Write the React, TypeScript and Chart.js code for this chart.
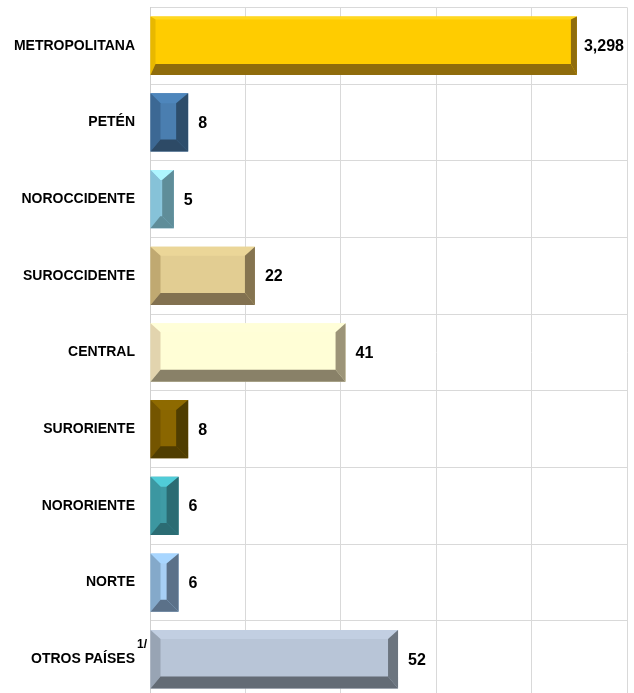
import React, { useEffect, useRef } from 'react';
import { Chart, registerables } from 'chart.js';

Chart.register(...registerables);

// ---- data ----
const categories = [
  'METROPOLITANA',
  'PETÉN',
  'NOROCCIDENTE',
  'SUROCCIDENTE',
  'CENTRAL',
  'SURORIENTE',
  'NORORIENTE',
  'NORTE',
  'OTROS PAÍSES',
];
// values shown as labels
const valueLabels = [3298, 8, 5, 22, 41, 8, 6, 6, 52];
// bar lengths as drawn on the 0–100 axis (Metropolitana bar is truncated)
const barValues = [89.5, 8, 5, 22, 41, 8, 6, 6, 52];
const axisMin = 0;
const axisMax = 100;
const axisStep = 20;
const footnoteIndex = 8;
const footnoteMark = '1/';

// ---- styles ----
type BarStyle = { face: string; top: string; left: string; right: string; bottom: string; bevel: number[] };
const barStyles: BarStyle[] = [
  { face: '#FFCC00', top: '#FFD820', left: '#E8B800', right: '#8F6C0C', bottom: '#8F6C0C', bevel: [3, 6, 11, 5] },
  { face: '#4A7EB0', top: '#4E86BC', left: '#3C6894', right: '#2D4D6B', bottom: '#2D4A66', bevel: [10, 12, 12, 10] },
  { face: '#8AC6DD', top: '#AEF6FF', left: '#86C2D8', right: '#5F8D99', bottom: '#5F8D99', bevel: [10, 12, 12, 10] },
  { face: '#E2CD92', top: '#EBD698', left: '#C0A971', right: '#857450', bottom: '#827150', bevel: [9, 10, 12, 10] },
  { face: '#FFFED6', top: '#FFFED8', left: '#E2D4AE', right: '#9C9478', bottom: '#898168', bevel: [9, 10, 12, 10] },
  { face: '#8A6600', top: '#8E6A00', left: '#745500', right: '#4F3D00', bottom: '#503D00', bevel: [10, 12, 12, 10] },
  { face: '#3F9BA5', top: '#50CCD8', left: '#3C97A1', right: '#2B6C73', bottom: '#2B6C73', bevel: [10, 12, 12, 10] },
  { face: '#A7CFF5', top: '#A8D6FF', left: '#84A9CA', right: '#5B7189', bottom: '#5B7189', bevel: [10, 12, 12, 10] },
  { face: '#B8C5D7', top: '#C2CFE2', left: '#98A4B4', right: '#6C757F', bottom: '#636B75', bevel: [9, 10, 12, 10] },
];

const FONT = '"Liberation Sans", Arial, sans-serif';

function poly(ctx: CanvasRenderingContext2D, color: string, pts: number[][]) {
  ctx.beginPath();
  ctx.moveTo(pts[0][0], pts[0][1]);
  for (let i = 1; i < pts.length; i++) ctx.lineTo(pts[i][0], pts[i][1]);
  ctx.closePath();
  ctx.fillStyle = color;
  ctx.fill();
}

const bevelPlugin = {
  id: 'bevel',
  afterDatasetsDraw(chart: any) {
    const ctx: CanvasRenderingContext2D = chart.ctx;
    const meta = chart.getDatasetMeta(0);
    ctx.save();
    meta.data.forEach((el: any, i: number) => {
      const p = el.getProps(['x', 'y', 'base', 'height'], true);
      const L = Math.min(p.base, p.x);
      const R = Math.max(p.base, p.x);
      const T = p.y - p.height / 2;
      const B = p.y + p.height / 2;
      const st = barStyles[i];
      const w = R - L;
      let [bt, br, bb, bl] = st.bevel;
      const maxW = w - 2;
      if (bl + br > maxW) {
        const k = maxW / (bl + br);
        bl *= k;
        br *= k;
      }
      poly(ctx, st.top, [[L, T], [R, T], [R - br, T + bt], [L + bl, T + bt]]);
      poly(ctx, st.left, [[L, T], [L + bl, T + bt], [L + bl, B - bb], [L, B]]);
      poly(ctx, st.right, [[R, T], [R - br, T + bt], [R - br, B - bb], [R, B]]);
      poly(ctx, st.bottom, [[L, B], [R, B], [R - br, B - bb], [L + bl, B - bb]]);
    });
    ctx.restore();
  },
  afterDraw(chart: any) {
    const ctx: CanvasRenderingContext2D = chart.ctx;
    const meta = chart.getDatasetMeta(0);
    const area = chart.chartArea;
    ctx.save();
    ctx.font = `bold 16px ${FONT}`;
    ctx.fillStyle = '#000000';
    ctx.textBaseline = 'middle';
    ctx.textAlign = 'left';
    meta.data.forEach((el: any, i: number) => {
      const p = el.getProps(['x', 'y', 'base'], true);
      const txt = valueLabels[i].toLocaleString('en-US');
      const tw = ctx.measureText(txt).width;
      const end = Math.max(p.x, p.base);
      const x = Math.min(end + 10, area.right - tw - 3);
      ctx.fillText(txt, x, p.y + 1);
    });
    // footnote superscript
    const yScale = chart.scales.y;
    const fy = yScale.getPixelForValue(footnoteIndex);
    ctx.font = `bold 12px ${FONT}`;
    ctx.textBaseline = 'middle';
    ctx.fillText(footnoteMark, area.left - 13, fy - 15);
    ctx.restore();
  },
};

export default function App() {
  const ref = useRef<HTMLCanvasElement>(null);
  useEffect(() => {
    if (!ref.current) return;
    const chart = new Chart(ref.current, {
      type: 'bar',
      data: {
        labels: categories,
        datasets: [
          {
            data: barValues,
            backgroundColor: barStyles.map((s) => s.face),
            borderWidth: 0,
            barPercentage: 0.76,
            categoryPercentage: 1,
          },
        ],
      },
      options: {
        indexAxis: 'y',
        responsive: false,
        animation: false,
        layout: { padding: { top: 7, right: 7, left: 0, bottom: 0 } },
        plugins: { legend: { display: false }, tooltip: { enabled: false } },
        scales: {
          x: {
            min: axisMin,
            max: axisMax,
            ticks: { display: false, stepSize: axisStep },
            grid: { color: '#D9D9D9', lineWidth: 1, drawTicks: false },
            border: { display: false },
            afterFit: (s: any) => {
              s.height = 0;
            },
          },
          y: {
            ticks: {
              color: '#000000',
              font: { family: FONT, size: 14, weight: 'bold' },
              padding: 15,
            },
            grid: { color: '#D9D9D9', lineWidth: 1, drawTicks: false },
            border: { display: true, color: '#D0D0D0' },
            afterFit: (s: any) => {
              s.width = 150;
            },
          },
        },
      },
      plugins: [bevelPlugin],
    } as any);
    return () => chart.destroy();
  }, []);
  return (
    <div style={{ position: 'fixed', left: 0, top: -16, width: 634, height: 737 }}>
      <canvas ref={ref} width={634} height={737} style={{ display: 'block' }} />
    </div>
  );
}
